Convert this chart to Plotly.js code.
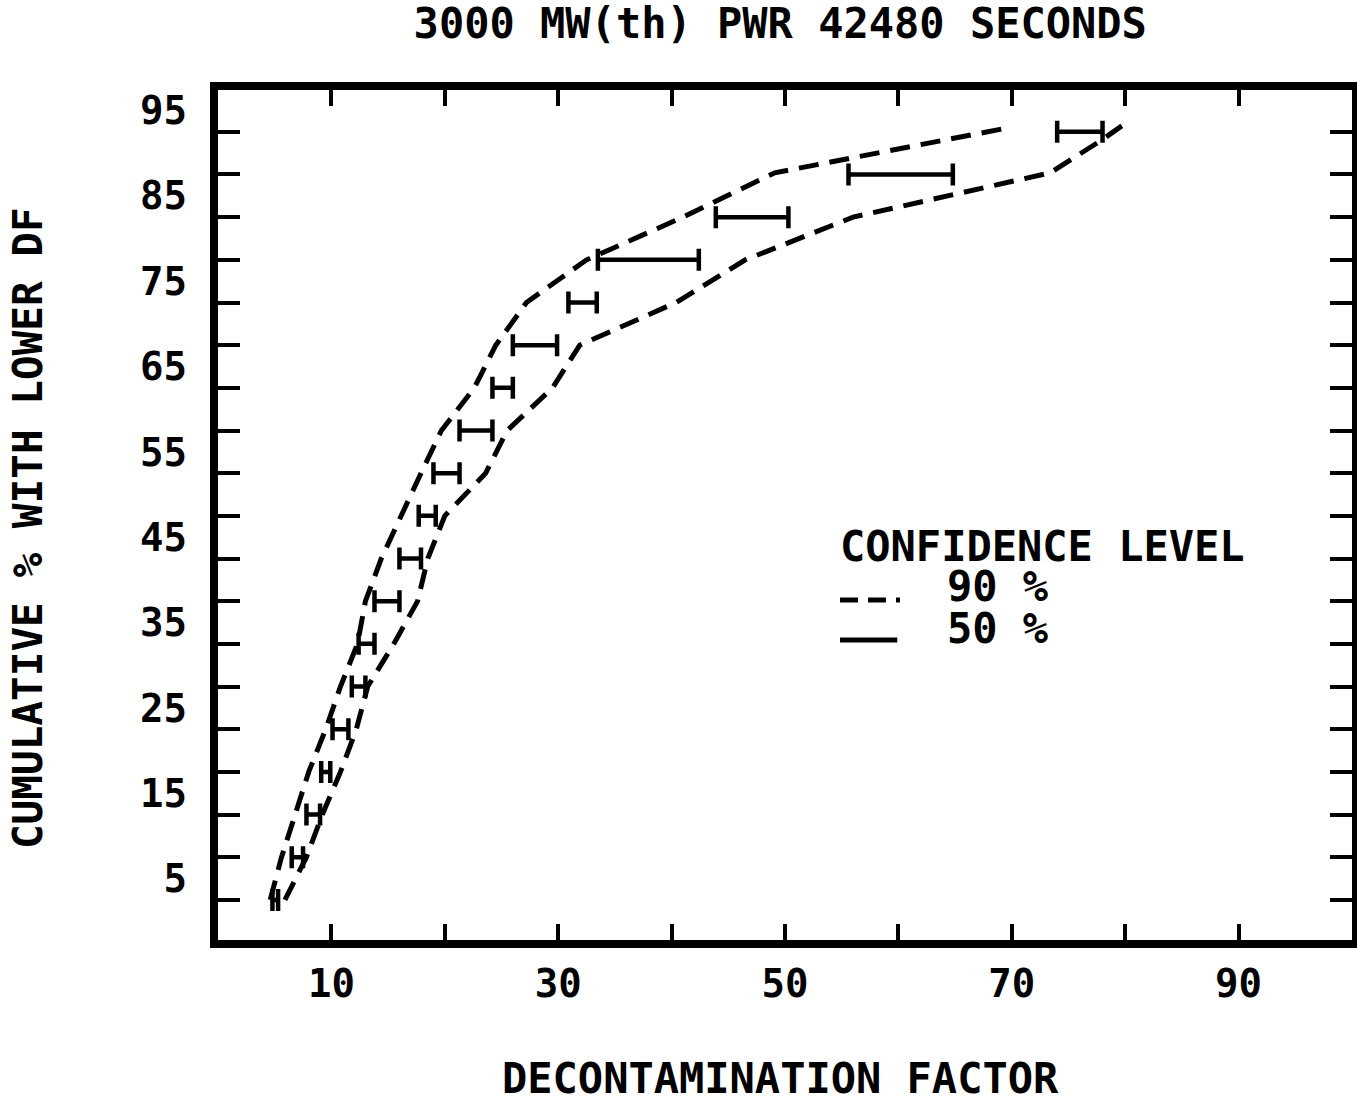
<!DOCTYPE html>
<html>
<head>
<meta charset="utf-8">
<script src="https://cdn.plot.ly/plotly-3.0.1.min.js"></script>
<style>html,body{margin:0;padding:0;background:#fff;}#chart{width:1357px;height:1101px;}</style>
</head>
<body>
<div id="chart"></div>
<script>
// 50% confidence intervals at each cumulative-% level
const levels = [2.5,7.5,12.5,17.5,22.5,27.5,32.5,37.5,42.5,47.5,52.5,57.5,62.5,67.5,72.5,77.5,82.5,87.5,92.5];
const bar50Low  = [4.8,6.5,7.8,9.1,10.1,11.8,12.4,13.8,16.0,17.7,19.0,21.3,24.2,26.0,30.9,33.5,43.9,55.6,74.0];
const bar50High = [5.3,7.5,9.0,9.9,11.5,13.0,13.8,16.0,17.9,19.2,21.3,24.2,26.0,29.9,33.4,42.4,50.3,64.8,78.0];

// 90% confidence bounds (dashed)
const upper90X = [4.6,5.6,6.8,8.0,9.5,10.8,12.3,13.0,14.4,16.1,17.9,19.7,22.6,24.5,27.2,32.5,41.0,49.1,69.8];
const upper90Y = [2.5,7.5,12.5,17.5,22.5,27.5,32.5,37.5,42.5,47.5,52.5,57.5,62.5,67.5,72.5,77.5,82.5,87.7,93.0];
const lower90X = [5.9,7.8,9.2,10.8,12.2,13.2,15.5,17.6,18.5,20.0,23.6,25.5,29.5,31.9,40.4,46.5,56.0,73.4,78.0,79.7];
const lower90Y = [2.5,7.5,12.5,17.5,22.5,27.5,32.5,37.5,42.5,47.5,52.5,57.5,62.5,67.5,72.5,77.5,82.5,87.7,91.6,93.2];

const xTickVals = [10,20,30,40,50,60,70,80,90];
const xTickText = ['10','','30','','50','','70','','90'];
const yTickVals = [2.5,7.5,12.5,17.5,22.5,27.5,32.5,37.5,42.5,47.5,52.5,57.5,62.5,67.5,72.5,77.5,82.5,87.5,92.5];
const yLabelVals = [5,15,25,35,45,55,65,75,85,95];
const yLabelText = ['5','15','25','35','45','55','65','75','85','95'];

const FONT = '"DejaVu Sans Mono", "Liberation Mono", monospace';
const W = 'bold';

const mid = levels.map((_, i) => (bar50Low[i] + bar50High[i]) / 2);
const plus = levels.map((_, i) => bar50High[i] - mid[i]);
const minus = levels.map((_, i) => mid[i] - bar50Low[i]);

const traces = [
  {x: upper90X, y: upper90Y, mode: 'lines', line: {color: '#000', width: 5, dash: '20px,11px'}, hoverinfo: 'skip'},
  {x: lower90X, y: lower90Y, mode: 'lines', line: {color: '#000', width: 5, dash: '20px,11px'}, hoverinfo: 'skip'},
  {x: mid, y: levels, mode: 'markers', marker: {size: 1, color: 'rgba(0,0,0,0)'},
   error_x: {type: 'data', symmetric: false, array: plus, arrayminus: minus, color: '#000', thickness: 4.5, width: 11}},
  {x: [null], y: [null], yaxis: 'y2', mode: 'markers', hoverinfo: 'skip'}
];

const txt = (size) => ({family: FONT, size: size, color: '#000', weight: W});

const layout = {
  width: 1357, height: 1101,
  margin: {l: 218, r: 5, t: 90, b: 161},
  paper_bgcolor: '#fff', plot_bgcolor: '#fff',
  showlegend: false,
  font: {family: FONT, color: '#000'},
  title: {text: '3000 MW(th) PWR 42480 SECONDS', font: txt(42),
          x: 0.575, xref: 'container', xanchor: 'center', y: 0.979, yref: 'container', yanchor: 'middle'},
  xaxis: {range: [0, 100], tickvals: xTickVals, ticktext: xTickText, ticks: 'inside', ticklen: 16, tickwidth: 4,
          tickcolor: '#000', mirror: 'ticks', showline: true, linewidth: 8, linecolor: '#000',
          showgrid: false, zeroline: false, tickfont: txt(39), ticklabelstandoff: 2},
  yaxis: {range: [-2.2, 97.4], tickvals: yTickVals, ticks: 'inside', ticklen: 22, tickwidth: 4,
          tickcolor: '#000', mirror: 'ticks', showline: true, linewidth: 8, linecolor: '#000',
          showticklabels: false, showgrid: false, zeroline: false},
  yaxis2: {range: [-2.2, 97.4], overlaying: 'y', side: 'left', anchor: 'x', tickvals: yLabelVals, ticktext: yLabelText,
           ticks: '', showline: false, showgrid: false, zeroline: false, ticklabelstandoff: 30,
           tickfont: txt(39)},
  annotations: [
    {text: 'DECONTAMINATION FACTOR', xref: 'paper', yref: 'paper', x: 0.4956, y: -0.162,
     xanchor: 'center', yanchor: 'middle', showarrow: false, font: txt(42), height: 40},
    {text: 'CUMULATIVE % WITH LOWER DF', xref: 'paper', yref: 'paper', x: -0.1675, y: 0.4847, textangle: -90,
     xanchor: 'center', yanchor: 'middle', showarrow: false, font: txt(41)},
    {text: 'CONFIDENCE LEVEL', xref: 'paper', yref: 'paper', x: 0.5467, y: 0.4635,
     xanchor: 'left', yanchor: 'middle', showarrow: false, font: txt(42), height: 38},
    {text: '90 %', xref: 'paper', yref: 'paper', x: 0.6411, y: 0.4165,
     xanchor: 'left', yanchor: 'middle', showarrow: false, font: txt(42), height: 38},
    {text: '50 %', xref: 'paper', yref: 'paper', x: 0.6411, y: 0.367,
     xanchor: 'left', yanchor: 'middle', showarrow: false, font: txt(42), height: 38}
  ],
  shapes: [
    {type: 'line', xref: 'paper', yref: 'paper', x0: 0.5485, x1: 0.6014, y0: 0.4, y1: 0.4,
     line: {color: '#000', width: 5, dash: '18px,10px'}},
    {type: 'line', xref: 'paper', yref: 'paper', x0: 0.5485, x1: 0.599, y0: 0.3529, y1: 0.3529,
     line: {color: '#000', width: 5}}
  ]
};

Plotly.newPlot('chart', traces, layout, {staticPlot: true});
</script>
</body>
</html>
